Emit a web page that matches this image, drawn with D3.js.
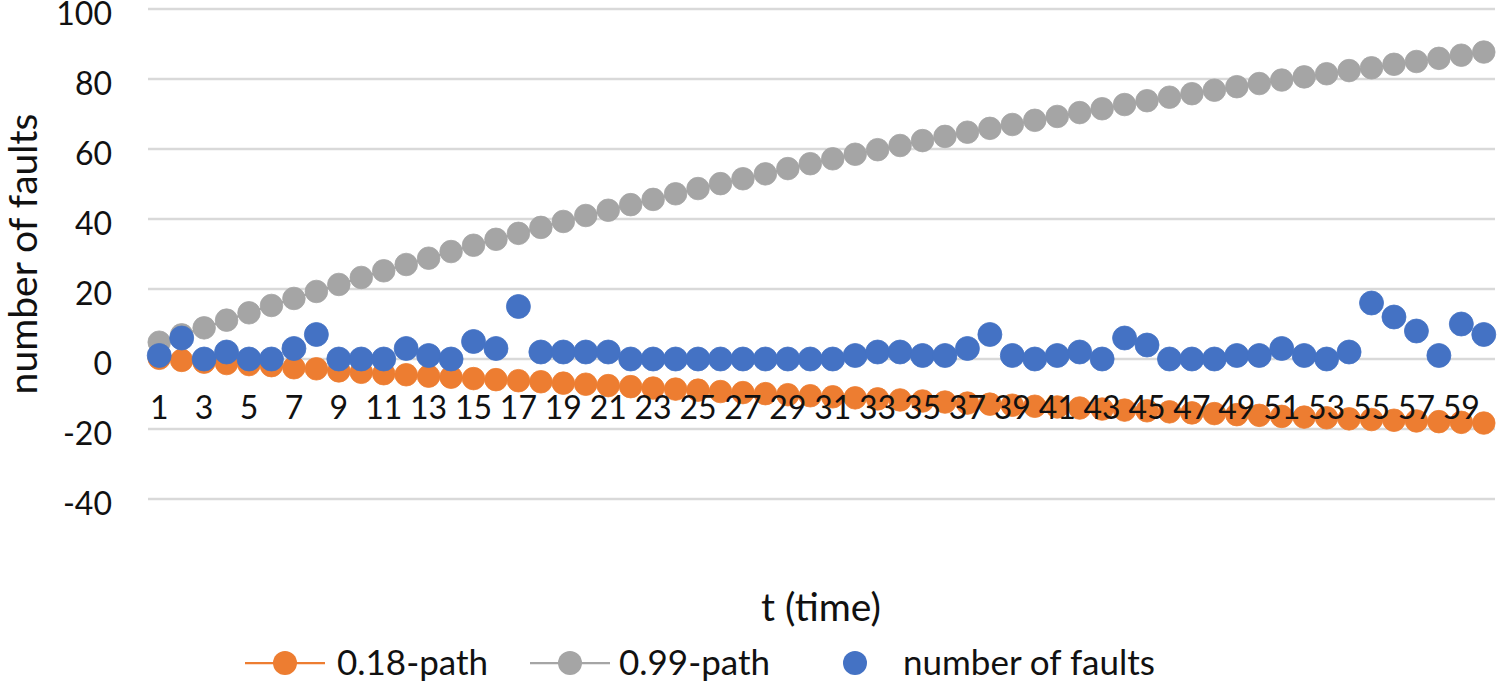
<!DOCTYPE html>
<html>
<head>
<meta charset="utf-8">
<script src="https://cdn.jsdelivr.net/npm/d3@7"></script>
<style>
  html, body { margin: 0; padding: 0; background: #fff; }
  svg { display: block; font-family: Lato, "Open Sans", sans-serif; }
</style>
</head>
<body>
<svg id="chart" width="1500" height="684"></svg>
<script>
// ---- data ----
const times = d3.range(1, 61);
const path018 = [0.2, -0.4, -0.9, -1.3, -1.6, -1.9, -2.5, -2.8, -3.4, -3.8,
  -4.2, -4.5, -4.9, -5.2, -5.6, -5.9, -6.2, -6.5, -6.9, -7.2,
  -7.6, -7.9, -8.3, -8.6, -8.9, -9.3, -9.6, -9.9, -10.2, -10.5,
  -10.8, -11.1, -11.4, -11.7, -12.0, -12.3, -12.6, -12.9, -13.2, -13.5,
  -13.7, -14.0, -14.3, -14.6, -14.8, -15.1, -15.4, -15.6, -15.9, -16.1,
  -16.4, -16.6, -16.8, -17.1, -17.3, -17.5, -17.7, -17.9, -18.1, -18.3];
const path099 = [4.8, 6.9, 8.9, 11.1, 13.2, 15.3, 17.3, 19.3, 21.3, 23.3,
  25.2, 27.0, 28.8, 30.7, 32.5, 34.2, 35.9, 37.6, 39.3, 41.0,
  42.5, 44.1, 45.6, 47.2, 48.7, 50.1, 51.5, 52.9, 54.4, 55.8,
  57.2, 58.5, 59.8, 61.0, 62.4, 63.6, 64.8, 65.9, 67.0, 68.2,
  69.3, 70.4, 71.5, 72.7, 73.8, 74.8, 75.8, 76.8, 77.8, 78.7,
  79.7, 80.6, 81.5, 82.4, 83.2, 84.2, 85.0, 85.9, 86.8, 87.7];
const faults = [1, 6, 0, 2, 0, 0, 3, 7, 0, 0,
  0, 3, 1, 0, 5, 3, 15, 2, 2, 2,
  2, 0, 0, 0, 0, 0, 0, 0, 0, 0,
  0, 1, 2, 2, 1, 1, 3, 7, 1, 0,
  1, 2, 0, 6, 4, 0, 0, 0, 1, 1,
  3, 1, 0, 2, 16, 12, 8, 1, 10, 7];
const yTicks = [-40, -20, 0, 20, 40, 60, 80, 100];
const xTickLabels = times.filter(t => t % 2 === 1);
const seriesNames = ["0.18-path", "0.99-path", "number of faults"];
const colors = ["#ED7D31", "#A5A5A5", "#4472C4"];

// ---- layout ----
const svg = d3.select("#chart");
const plotL = 148, plotR = 1495, plotT = 9, plotB = 499;
const x = d3.scaleBand().domain(times).range([plotL, plotR]).paddingInner(0);
const cx = t => x(t) + x.bandwidth() / 2;
const y = d3.scaleLinear().domain([-40, 100]).range([plotB, plotT]);
const tickFont = 32, titleFont = 39, legendFont = 35;
const textColor = "#111";

// gridlines
svg.append("g")
  .selectAll("line").data(yTicks).join("line")
  .attr("x1", plotL).attr("x2", plotR)
  .attr("y1", d => y(d)).attr("y2", d => y(d))
  .attr("stroke", "#d9d9d9").attr("stroke-width", 2.5);

// y axis labels
const yAxis = svg.append("g")
  .attr("transform", `translate(${plotL},0)`)
  .call(d3.axisLeft(y).tickValues(yTicks).tickFormat(d => String(d))
    .tickSize(0).tickPadding(36));
yAxis.select(".domain").remove();
yAxis.selectAll("text").attr("font-size", tickFont).attr("fill", textColor)
  .attr("font-family", "Lato, sans-serif").attr("y", 5);

// series with lines
const lineGen = vals => d3.line().x((d, i) => cx(times[i])).y(d => y(d))(vals);
function drawLineSeries(vals, color) {
  const g = svg.append("g");
  g.append("path").attr("d", lineGen(vals)).attr("fill", "none")
    .attr("stroke", color).attr("stroke-width", 2.25);
  g.selectAll("circle").data(vals).join("circle")
    .attr("cx", (d, i) => cx(times[i])).attr("cy", d => y(d))
    .attr("r", 11.3).attr("fill", color).attr("stroke", color).attr("stroke-width", 0.8);
}
drawLineSeries(path018, colors[0]);
drawLineSeries(path099, colors[1]);

// faults markers
svg.append("g").selectAll("circle").data(faults).join("circle")
  .attr("cx", (d, i) => cx(times[i])).attr("cy", d => y(d))
  .attr("r", 12).attr("fill", colors[2]).attr("stroke", colors[2]).attr("stroke-width", 0.8);

// x axis labels at y=0
const xAxis = svg.append("g")
  .attr("transform", `translate(0,${y(0)})`)
  .call(d3.axisBottom(x).tickValues(xTickLabels).tickSize(0).tickPadding(37));
xAxis.select(".domain").remove();
xAxis.selectAll("text").attr("font-size", tickFont).attr("fill", textColor)
  .attr("font-family", "Lato, sans-serif");

// axis titles
svg.append("text")
  .attr("transform", "translate(37,254) rotate(-90)")
  .attr("text-anchor", "middle").attr("font-size", titleFont).attr("fill", textColor)
  .text("number of faults");
svg.append("text")
  .attr("x", 821).attr("y", 621)
  .attr("text-anchor", "middle").attr("font-size", titleFont).attr("fill", textColor)
  .text("t (time)");

// legend
const legendY = 663;
const legendItems = [
  { name: seriesNames[0], color: colors[0], line: [245, 325], marker: 285, text: 337 },
  { name: seriesNames[1], color: colors[1], line: [530, 610], marker: 570, text: 619 },
  { name: seriesNames[2], color: colors[2], line: null, marker: 855, text: 903 }
];
const lg = svg.append("g");
legendItems.forEach(it => {
  if (it.line) {
    lg.append("line").attr("x1", it.line[0]).attr("x2", it.line[1])
      .attr("y1", legendY).attr("y2", legendY)
      .attr("stroke", it.color).attr("stroke-width", 2.25);
  }
  lg.append("circle").attr("cx", it.marker).attr("cy", legendY)
    .attr("r", 12).attr("fill", it.color);
  lg.append("text").attr("x", it.text).attr("y", 675)
    .attr("font-size", legendFont).attr("fill", textColor).text(it.name);
});
</script>
</body>
</html>
